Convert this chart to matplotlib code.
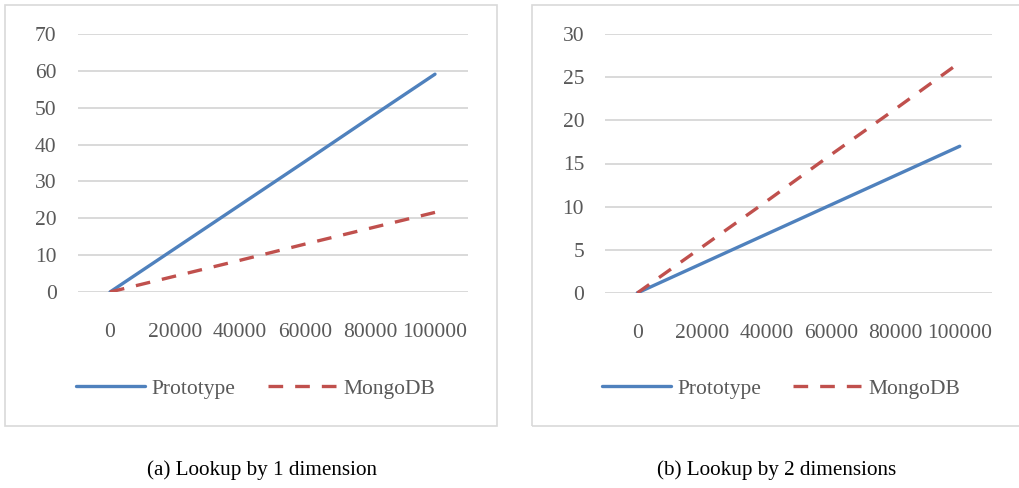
import matplotlib.pyplot as plt
from matplotlib.patches import Rectangle

# данные
x_labels = ['0', '20000', '40000', '60000', '80000', '100000']
proto_1d = [0, 11.8, 23.6, 35.4, 47.3, 59.1]
mongo_1d = [0, 4.3, 8.6, 13.0, 17.3, 21.6]
proto_2d = [0, 3.4, 6.8, 10.2, 13.6, 17.0]
mongo_2d = [0, 5.3, 10.6, 16.0, 21.3, 26.7]
captions = ['(a) Lookup by 1 dimension', '(b) Lookup by 2 dimensions']

W, H = 1019, 488
blue = '#4f81bd'
red = '#c0504d'
grid = '#d9d9d9'
txt = '#595959'
plt.rcParams['font.family'] = ['Liberation Serif', 'DejaVu Serif']

fig = plt.figure(figsize=(W / 100, H / 100), dpi=100)


def px(x0, y0, x1, y1):
    # пиксели -> доли фигуры
    return [x0 / W, 1 - y1 / H, (x1 - x0) / W, (y1 - y0) / H]


# рамки диаграмм
for bx0, bx1 in [(5, 497), (532, 1022)]:
    fig.patches.append(Rectangle((bx0 / W, 1 - 426 / H), (bx1 - bx0) / W, 421 / H,
                                 transform=fig.transFigure, fill=False,
                                 edgecolor=grid, lw=1.2))

panels = [
    (px(77.5, 34, 467.5, 292), proto_1d, mongo_1d, 70, 10, 255.5, 262),
    (px(605, 34, 992, 293), proto_2d, mongo_2d, 30, 5, 781, 777),
]

for i, (rect, p, m, ymax, step, leg_x, cap_x) in enumerate(panels):
    ax = fig.add_axes(rect)
    xs = range(len(x_labels))
    ax.plot(xs, p, color=blue, lw=2.4, label='Prototype', solid_capstyle='round')
    ax.plot(xs, m, color=red, lw=2.4, dashes=(4.4, 3.6), label='MongoDB')
    ax.set_xlim(-0.5, len(x_labels) - 0.5)
    ax.set_ylim(0, ymax)
    ax.set_yticks(range(0, ymax + 1, step))
    ax.set_xticks(list(xs))
    ax.set_xticklabels(x_labels)
    ax.yaxis.grid(True, color=grid, lw=1.4)
    ax.set_axisbelow(True)
    for s in ax.spines.values():
        s.set_visible(False)
    ax.tick_params(length=0, colors=txt, labelsize=15.5)
    ax.tick_params(axis='y', pad=15)
    ax.tick_params(axis='x', pad=22)
    ax.legend(loc='center', bbox_to_anchor=(leg_x / W, 1 - 389 / H),
              bbox_transform=fig.transFigure, ncol=2, frameon=False,
              handlelength=3.2, columnspacing=1.5, handletextpad=0.3,
              labelcolor=txt, prop={'size': 15.5})
    fig.text(cap_x / W, 1 - 470 / H, captions[i], ha='center', va='center',
             fontsize=15.2, color='black')

fig.savefig('out.png', dpi=100)
